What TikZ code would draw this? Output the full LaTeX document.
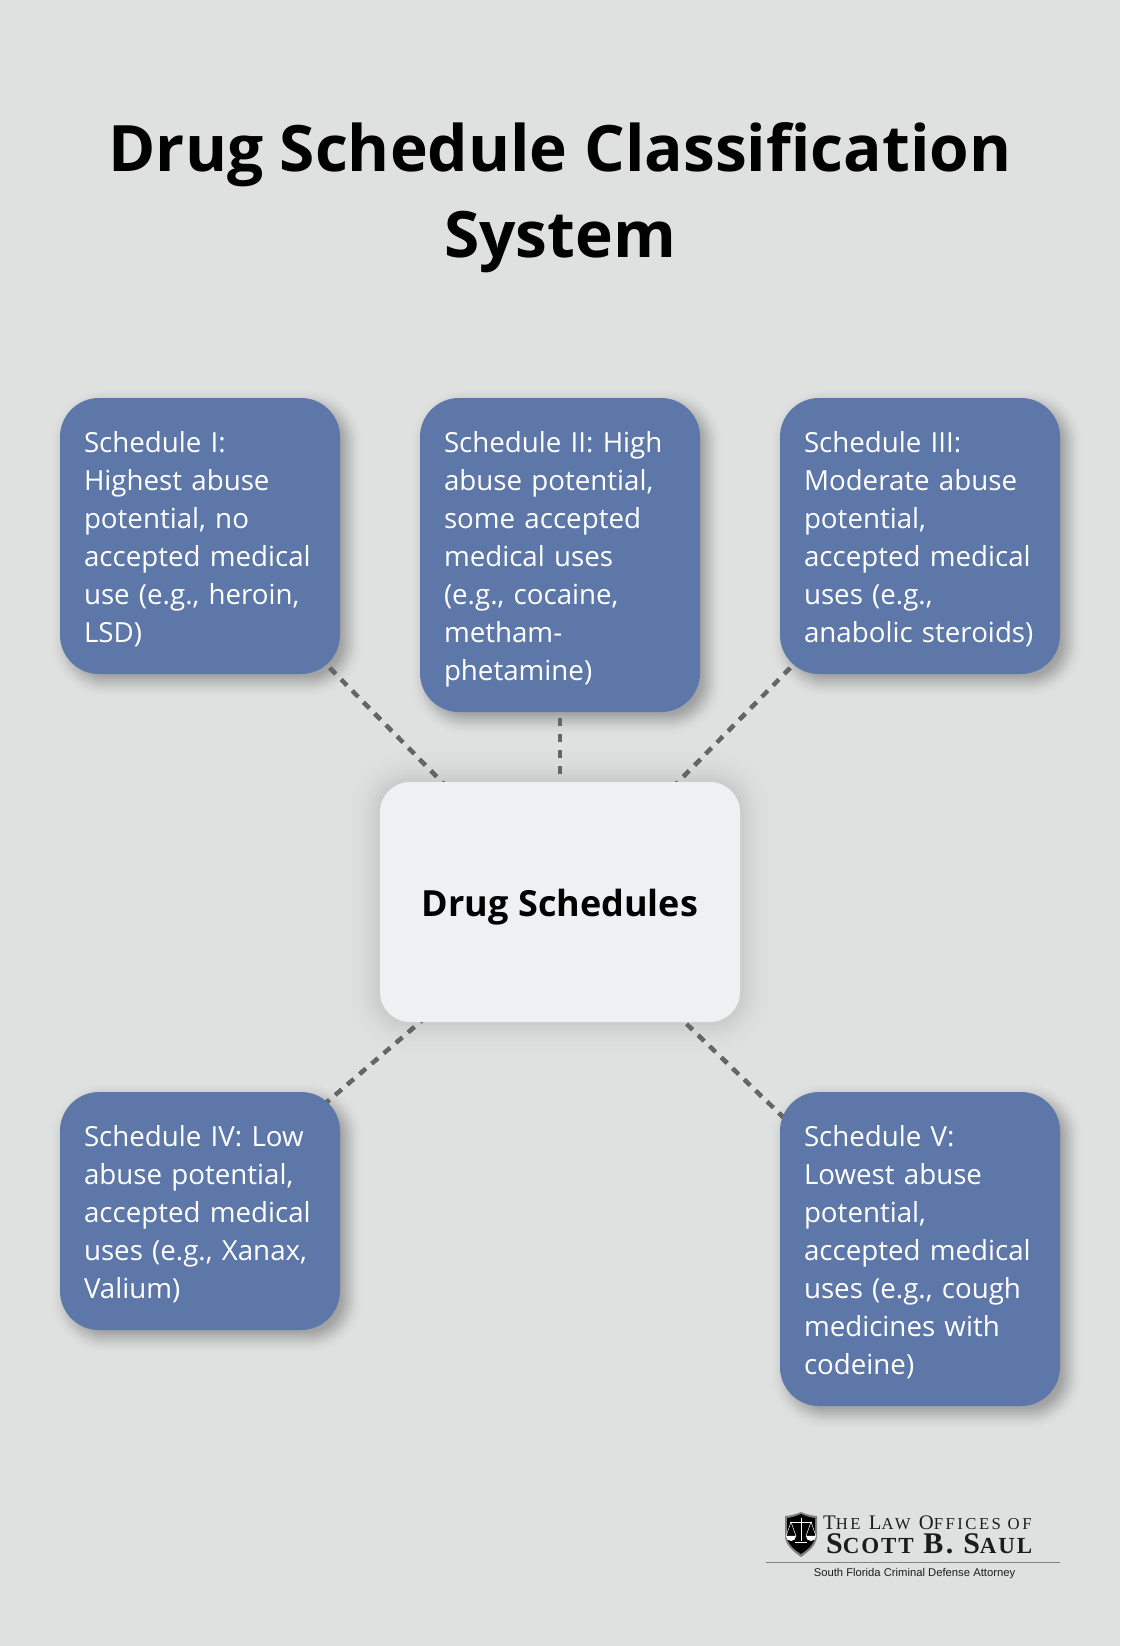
\documentclass[tikz,border=0pt]{standalone}
\usepackage{fontspec}
\setmainfont{Open Sans}
\newfontfamily\logoserif[LetterSpace=15]{Liberation Serif}
\newfontfamily\logobold[LetterSpace=8]{Liberation Serif}
\newfontfamily\logosans{Liberation Sans}
\usetikzlibrary{backgrounds,calc}

\definecolor{pagegray}{HTML}{DFE1E0}
\definecolor{schedblue}{HTML}{5D77A8}
\definecolor{hubwhite}{HTML}{EFF0F2}
\definecolor{linkgray}{HTML}{666666}
\definecolor{logoink}{HTML}{1C1C1C}

\tikzset{
  schedbox/.style={fill=schedblue, text=white, rounded corners=39pt, minimum width=280pt,
    text width=232pt, inner sep=0pt, align=left, font=\fontsize{27.7}{38}\selectfont,
    execute at begin node=\rule[-8pt]{0pt}{38pt},
    execute at end node=\rule[-8pt]{0pt}{38pt}},
  hubbox/.style={fill=hubwhite, rounded corners=30pt, minimum width=360pt, minimum height=240pt,
    inner sep=0pt, font=\fontsize{36}{44}\selectfont\bfseries,
    execute at begin node=\rule{0pt}{37pt}},
  linkline/.style={draw=linkgray, line width=4pt, dash pattern=on 8pt off 8pt},
  logotext/.style={inner sep=0pt, text=logoink}
}

% soft shadow: #1 node, #2 offset, #3 sigma, #4 corner radius, #5 peak opacity
\newcommand{\softshadow}[5]{
  \foreach \layer in {-8,...,8} {
    \pgfmathsetmacro{\spread}{\layer*#3/4}
    \pgfmathsetmacro{\cornerr}{max(#4+\spread,2)}
    \pgfmathsetmacro{\layeralpha}{#5*exp(-\layer*\layer/32)}
    \fill[black, opacity=\layeralpha, rounded corners=\cornerr pt]
      ($(#1.north west)+(#2-\spread,#2-\spread)$) rectangle ($(#1.south east)+(#2+\spread,#2+\spread)$);
  }
}

\begin{document}
\begin{tikzpicture}[x=1pt, y=-1pt]
      \useasboundingbox (0,0) rectangle (1120,1646);

      % Title
      \node[align=center, font=\fontsize{64}{86}\selectfont\bfseries] (title) at (560,197.4)
        {Drug Schedule Classification\\System};

      % Nodes
      \node[hubbox] (hub) at (560,902) {Drug Schedules};
      \node[schedbox, minimum height=276pt] (s1) at (200,536)
        {Schedule I:\\Highest abuse\\potential, no\\accepted medical\\use (e.g., heroin,\\LSD)};
      \node[schedbox, minimum height=314pt] (s2) at (560,555)
        {Schedule II: High\\abuse potential,\\some accepted\\medical uses\\(e.g., cocaine,\\metham-\\phetamine)};
      \node[schedbox, minimum height=276pt] (s3) at (920,536)
        {Schedule III:\\Moderate abuse\\potential,\\accepted medical\\uses (e.g.,\\anabolic steroids)};
      \node[schedbox, minimum height=238pt] (s4) at (200,1211)
        {Schedule IV: Low\\abuse potential,\\accepted medical\\uses (e.g., Xanax,\\Valium)};
      \node[schedbox, minimum height=314pt] (s5) at (920,1249)
        {Schedule V:\\Lowest abuse\\potential,\\accepted medical\\uses (e.g., cough\\medicines with\\codeine)};

      % Page, shadows and links
      \begin{scope}[on background layer]
        \fill[pagegray] (0,0) rectangle (1120,1646);
        \softshadow{hub}{0}{16}{30}{0.018}
        \foreach \sched in {s1,s2,s3,s4,s5}
          \softshadow{\sched}{7}{8}{39}{0.035}
        \foreach \sched in {s1,s2,s3,s4,s5}
          \draw[linkline] (hub.center) -- (\sched.center);
      \end{scope}

      % Logo
      \fill[gray] (785,1516) .. controls (795,1515) and (798,1513) .. (801,1512)
        .. controls (804,1513) and (807,1515) .. (817,1516) -- (817,1537)
        .. controls (816,1546) and (808,1552) .. (801,1557)
        .. controls (794,1552) and (786,1546) .. (785,1537) -- cycle;
      \fill[black] (787,1518) .. controls (795,1517) and (798,1515) .. (801,1514)
        .. controls (804,1515) and (807,1517) .. (815,1518) -- (815,1537)
        .. controls (814,1545) and (807,1550) .. (801,1554)
        .. controls (795,1550) and (788,1545) .. (787,1537) -- cycle;
      \draw[white, line width=1pt] (801,1518) -- (801,1541) (795,1542) -- (807,1542) (790,1522) -- (812,1522);
      \draw[white, line width=.5pt] (791,1522) -- (786,1536) -- (796,1536) -- cycle
        (811,1522) -- (806,1536) -- (816,1536) -- cycle;
      \fill[white] (786,1536) arc[start angle=180, end angle=360, radius=5pt] -- cycle
        (806,1536) arc[start angle=180, end angle=360, radius=5pt] -- cycle;

      \node[logotext, anchor=base west] (lawoffices) at (823,1529)
        {\logoserif\fontsize{20.7}{20}\selectfont T{\fontsize{16.7}{20}\selectfont HE} L{\fontsize{16.7}{20}\selectfont AW} O{\fontsize{16.7}{20}\selectfont FFICES OF}};
      \node[logotext, anchor=base west] (scott) at (826,1553)
        {\logobold\bfseries\fontsize{30}{30}\selectfont S{\fontsize{23}{30}\selectfont COTT} B. S{\fontsize{23}{30}\selectfont AUL}};
      \coordinate (ruleleft) at (766,1562);
      \coordinate (ruleright) at (1060,1562);
      \draw[gray, line width=1pt] (ruleleft) -- (ruleright);
      \node[logotext, font=\logosans\fontsize{11.25}{12}\selectfont] (tagline) at (914.5,1573.5)
        {South Florida Criminal Defense Attorney};
\end{tikzpicture}
\end{document}
